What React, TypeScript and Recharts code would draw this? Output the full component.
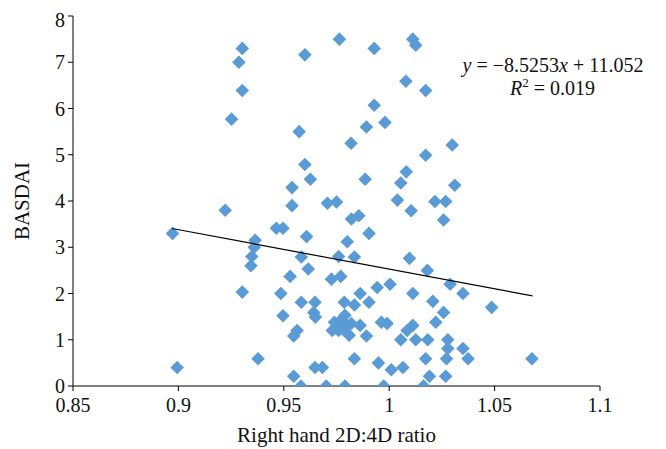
import React from 'react';
import { ScatterChart, Scatter, XAxis, YAxis, Label } from 'recharts';

const ratio = [
  0.9303, 0.9287, 0.9303, 0.9252, 0.9222, 0.8972, 0.8994, 0.9303, 0.9364, 0.936,
  0.9348, 0.9344, 0.9378, 0.9465, 0.9496, 0.9539, 0.9539, 0.9486, 0.9496, 0.953,
  0.9547, 0.9563, 0.9547, 0.9581, 0.9573, 0.96, 0.96, 0.9626, 0.9608, 0.9583,
  0.9616, 0.9583, 0.9648, 0.9642, 0.965, 0.9648, 0.9683, 0.9701, 0.9707, 0.975,
  0.9764, 0.976, 0.9726, 0.977, 0.9801, 0.9787, 0.974, 0.977, 0.979, 0.98,
  0.976, 0.973, 0.982, 0.978, 0.981, 0.979, 0.9819, 0.9821, 0.9856, 0.9835,
  0.9835, 0.9862, 0.9862, 0.9835, 0.9892, 0.9886, 0.9904, 0.9904, 0.9892, 0.9943,
  0.9929, 0.9929, 0.998, 0.9949, 0.9974, 0.9963, 0.999, 1.0004, 1.001, 1.0039,
  1.0055, 1.0081, 1.0079, 1.0112, 1.0126, 1.0104, 1.0096, 1.0112, 1.0065, 1.0055,
  1.0085, 1.0112, 1.0126, 1.0173, 1.0173, 1.0181, 1.0183, 1.0173, 1.0163, 1.0191,
  1.0207, 1.0217, 1.0268, 1.0258, 1.0221, 1.0258, 1.0299, 1.0311, 1.0289, 1.035,
  1.0278, 1.0278, 1.0272, 1.0268, 1.035, 1.0374, 1.0486, 1.0677,
];

const basdai = [
  7.3, 7.0, 6.39, 5.77, 3.8, 3.3, 0.4, 2.03, 3.15, 3.0,
  2.8, 2.6, 0.59, 3.41, 3.41, 4.29, 3.9, 2.0, 1.52, 2.37,
  1.08, 1.2, 0.21, 0.0, 5.5, 7.16, 4.79, 4.47, 3.23, 2.79,
  2.53, 1.81, 1.81, 1.59, 1.49, 0.4, 0.4, 0.0, 3.95, 3.98,
  7.5, 2.8, 2.31, 2.37, 3.12, 1.81, 1.38, 1.42, 1.53, 1.31,
  1.2, 1.2, 1.35, 1.24, 1.1, 0.0, 5.25, 3.61, 3.68, 2.79,
  1.75, 2.0, 1.31, 0.59, 5.6, 4.47, 3.3, 1.81, 1.08, 2.13,
  7.3, 6.07, 5.7, 0.5, 0.0, 1.38, 1.35, 2.2, 0.35, 4.02,
  4.39, 4.63, 6.59, 7.5, 7.37, 3.79, 2.76, 2.0, 0.4, 1.0,
  1.2, 1.31, 1.0, 6.39, 4.99, 2.5, 1.0, 0.59, 0.0, 0.21,
  1.83, 3.99, 3.99, 3.59, 1.38, 1.59, 5.21, 4.34, 2.2, 2.0,
  1.0, 0.81, 0.59, 0.21, 0.81, 0.59, 1.7, 0.59,
];

const xTicks = [0.85, 0.9, 0.95, 1, 1.05, 1.1];
const yTicks = [0, 1, 2, 3, 4, 5, 6, 7, 8];

const slope = -8.5253;
const intercept = 11.052;
const trendX = [0.897, 1.068];

const points = ratio.map((r, i) => ({ x: r, y: basdai[i] }));
const trend = trendX.map((x) => ({ x, y: slope * x + intercept }));

const FONT = '"Liberation Serif", "DejaVu Serif", serif';
const TEXT = '#111';

const Diamond = (props: any) => {
  const { cx, cy } = props;
  const r = 6.8;
  return (
    <polygon
      points={`${cx},${cy - r} ${cx + r},${cy} ${cx},${cy + r} ${cx - r},${cy}`}
      fill="#5B9BD5"
    />
  );
};

const NoShape = () => null;

export default function App() {
  return (
    <div style={{ position: 'relative', width: 650, height: 441 }}>
      <ScatterChart
        width={650}
        height={441}
        margin={{ top: 8, right: 58, bottom: 0, left: 0 }}
        style={{ fontFamily: FONT }}
      >
        <XAxis
          type="number"
          dataKey="x"
          domain={[0.85, 1.1]}
          ticks={xTicks}
          height={63}
          stroke="#000"
          tickLine={{ stroke: '#000' }}
          tickSize={5}
          tickMargin={7}
          tick={{ fill: TEXT, fontSize: 20, fontFamily: FONT }}
          allowDataOverflow
        >
          <Label
            content={(p: any) => {
              const vb = p.viewBox || {};
              const x = (vb.x || 0) + (vb.width || 0) / 2;
              const y = 434;
              return (
                <text
                  x={x}
                  y={y}
                  textAnchor="middle"
                  style={{ fill: TEXT, fontSize: 21, fontFamily: FONT }}
                >
                  Right hand 2D:4D ratio
                </text>
              );
            }}
          />
        </XAxis>
        <YAxis
          type="number"
          dataKey="y"
          domain={[0, 8]}
          ticks={yTicks}
          width={65}
          stroke="#000"
          tickLine={{ stroke: '#000' }}
          tickSize={5}
          tickMargin={3}
          tick={{ fill: TEXT, fontSize: 20, fontFamily: FONT }}
          allowDataOverflow
        >
          <Label
            content={(p: any) => {
              const vb = p.viewBox || {};
              const x = 14;
              const y = (vb.y || 0) + (vb.height || 0) / 2;
              return (
                <text
                  x={x}
                  y={y}
                  transform={`rotate(-90, ${x}, ${y})`}
                  textAnchor="middle"
                  dominantBaseline="central"
                  style={{ fill: TEXT, fontSize: 21, fontFamily: FONT }}
                >
                  BASDAI
                </text>
              );
            }}
          />
        </YAxis>
        <Scatter data={points} shape={<Diamond />} isAnimationActive={false} />
        <Scatter
          data={trend}
          line={{ stroke: '#000', strokeWidth: 1.2 }}
          shape={<NoShape />}
          isAnimationActive={false}
        />
      </ScatterChart>
      <svg
        width={650}
        height={441}
        style={{ position: 'absolute', left: 0, top: 0, pointerEvents: 'none' }}
      >
        <text
          x={545}
          y={63.5}
          textAnchor="middle"
          style={{ fill: TEXT, fontSize: 20, fontFamily: FONT }}
        >
          <tspan fontStyle="italic">y</tspan>
          <tspan> = −8.5253</tspan>
          <tspan fontStyle="italic">x</tspan>
          <tspan> + 11.052</tspan>
        </text>
        <text
          x={544.5}
          y={87}
          textAnchor="middle"
          style={{ fill: TEXT, fontSize: 20, fontFamily: FONT }}
        >
          <tspan fontStyle="italic">R</tspan>
          <tspan fontSize={13} dy={-8}>2</tspan>
          <tspan dy={8}> = 0.019</tspan>
        </text>
      </svg>
    </div>
  );
}
